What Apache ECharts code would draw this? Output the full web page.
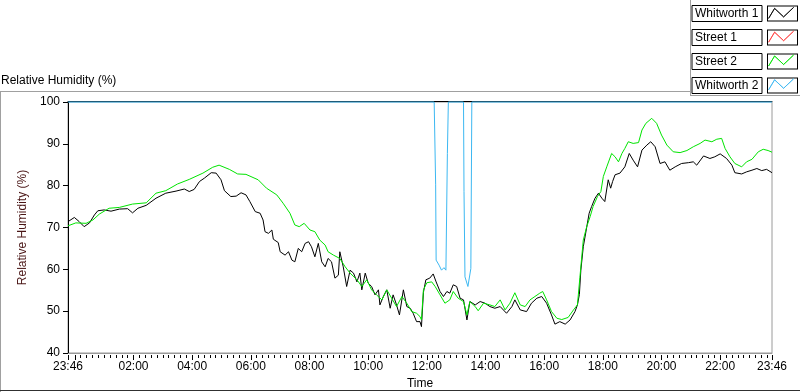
<!DOCTYPE html>
<html>
<head>
<meta charset="utf-8">
<script src="https://cdn.jsdelivr.net/npm/echarts@6/dist/echarts.min.js"></script>
<style>
  html, body { margin: 0; padding: 0; background: #fff; }
  #chart { width: 800px; height: 392px; }
</style>
</head>
<body>
<div id="chart"></div>
<script>
// minutes elapsed since the start of the record (23:46)
const w1Time = [0,13,23,33,44,54,61,74,88,105,122,132,143,160,180,200,221,238,248,258,269,279,293,303,313,320,333,344,354,364,372,383,393,399,403,410,417,420,430,434,444,451,458,464,471,478,485,492,498,505,512,519,526,532,539,546,553,556,563,570,577,584,591,597,601,608,614,621,628,635,638,645,652,659,665,672,678,686,693,700,706,713,720,723,727,732,740,747,753,761,768,775,781,788,795,802,809,816,822,833,843,853,863,873,884,897,908,914,925,938,948,959,969,979,989,996,1006,1017,1027,1037,1042,1046,1049,1054,1060,1066,1071,1078,1085,1092,1098,1105,1110,1114,1119,1129,1139,1148,1156,1165,1174,1184,1192,1201,1211,1221,1231,1242,1255,1269,1279,1286,1300,1313,1323,1334,1347,1358,1364,1378,1388,1399,1409,1419,1429,1440]
const w1Val = [71.4,72.4,71.4,70.2,71.1,73.0,74.0,74.2,73.9,74.4,74.5,73.5,74.6,75.3,77.0,78.2,78.7,79.2,78.6,79.1,81.0,81.8,83.1,83.0,81.4,78.8,77.4,77.5,78.3,77.8,76.2,73.8,73.4,71.8,69.0,68.6,69.4,67.2,66.4,64.2,63.4,64.2,62.2,61.8,65.0,64.2,66.2,66.6,65.4,63.0,66.2,61.8,60.6,62.6,61.8,57.9,58.6,64.2,60.6,55.9,59.8,59.1,57.0,59.1,55.1,59.1,56.7,55.9,53.9,55.1,51.5,53.5,55.1,50.7,53.9,51.5,49.1,55.1,51.1,50.7,49.5,47.5,47.5,46.3,54.5,57.5,57.9,58.9,57.0,54.7,53.5,54.7,54.3,56.3,55.9,53.1,52.7,47.9,52.3,51.5,52.3,51.9,51.1,50.7,51.1,49.5,51.1,52.7,50.3,49.9,51.9,53.1,53.5,51.9,49.1,46.9,47.5,46.9,47.9,49.9,51.5,54.0,59.8,65.4,69.4,73.4,75.0,77.0,78.2,77.0,76.2,81.4,79.4,81.0,82.6,83.0,84.5,87.7,86.1,84.5,88.5,89.7,90.5,89.3,85.3,85.7,83.7,84.5,85.3,85.5,85.7,84.9,87.1,86.5,86.9,87.6,86.5,84.9,83.1,82.8,83.3,83.7,84.1,83.6,83.9,83.1]

const s1Time = []
const s1Val = []

const s2Time = [0,16,37,51,64,84,105,132,160,180,200,224,248,276,296,309,330,347,364,389,406,427,440,454,464,473,483,495,505,515,526,532,543,556,567,577,591,601,611,621,631,642,652,662,672,683,693,703,713,720,723,727,734,744,751,761,771,781,788,798,809,816,822,833,839,850,863,873,884,894,904,914,925,935,945,955,965,971,979,989,1000,1010,1023,1034,1042,1047,1054,1061,1068,1074,1083,1090,1095,1102,1112,1119,1126,1133,1139,1146,1156,1167,1174,1182,1194,1204,1214,1225,1238,1252,1266,1279,1293,1303,1317,1327,1337,1344,1354,1364,1378,1388,1399,1412,1422,1432,1440]
const s2Val = [70.4,71.1,71.0,71.8,73.2,74.6,74.8,75.6,75.9,78.2,78.8,80.4,81.5,83.0,84.4,84.9,83.9,82.8,82.7,81.4,79.4,77.8,75.8,73.4,70.6,70.2,71.0,69.4,69.0,67.0,65.8,64.2,63.4,62.6,60.6,59.1,57.5,55.9,57.5,55.1,53.9,52.7,55.1,53.1,51.1,53.5,51.9,49.9,49.5,48.7,47.9,55.1,56.8,57.0,55.9,53.9,51.9,52.7,54.7,53.1,52.3,49.1,52.3,51.1,50.1,51.9,51.5,51.1,52.7,50.3,51.9,54.4,51.5,51.1,52.7,53.5,54.3,54.7,52.7,49.9,48.3,48.0,48.5,50.3,51.5,58.0,67.0,70.2,72.6,75.0,77.4,78.6,82.2,84.5,87.7,86.9,85.7,87.7,88.9,90.5,90.1,90.3,93.3,94.9,96.1,94.9,92.1,89.7,88.1,87.9,88.4,89.3,90.1,90.9,90.5,91.1,91.3,88.9,86.9,85.3,84.5,85.7,86.3,88.1,88.7,88.4,88.0]

const w2Time = [0,749,752,753,759,764,769,773,776,778,809,810,812,818,822,824,826,1440]
const w2Val = [100,100,80.2,62.2,61.0,59.8,60.4,59.8,87.7,100,100,78.6,58.2,55.9,56.3,60.2,100,100]

const seriesNames = ['Whitworth 1', 'Street 1', 'Street 2', 'Whitworth 2']
const seriesColors = ['#000000', '#ff3b3b', '#00e400', '#3cb8f2']

const tickLabels = ['23:46','02:00','04:00','06:00','08:00','10:00','12:00','14:00','16:00','18:00','20:00','22:00','23:46']

const START = 23 * 60 + 46
const FONT = 'Liberation Sans, Arial, sans-serif'

function pad(n) { return (n < 10 ? '0' : '') + n }
function clock(v) {
    let m = (START + Math.round(v)) % 1440
    return pad(Math.floor(m / 60)) + ':' + pad(m % 60)
}
// tick labels -> elapsed minutes
let labelPos = tickLabels.map((s, i) => {
    if (i === tickLabels.length - 1) return 1440
    let p = s.split(':')
    return ((+p[0] * 60 + +p[1]) - START + 1440) % 1440
})
let majorPos = labelPos.concat([1440 - START]).sort((a, b) => a - b)   // midnight tick too
let minorPos = []
for (let v = 1440 - START + 12; v < 1440; v += 12) {
    if (majorPos.indexOf(v) < 0) minorPos.push(v)
}

function pairs(t, v) { return t.map((x, i) => [x, v[i]]) }

let myChart = echarts.init(document.getElementById('chart'))

let lineSeries = [
    [w1Time, w1Val], [s1Time, s1Val], [s2Time, s2Val], [w2Time, w2Val]
].map((d, i) => ({
    name: seriesNames[i],
    type: 'line',
    data: pairs(d[0], d[1]),
    symbol: 'none',
    showSymbol: false,
    clip: false,
    lineStyle: { width: 1, color: seriesColors[i] },
    itemStyle: { color: seriesColors[i] },
    emphasis: { disabled: true },
    z: 3 + i
}))

let hiddenAxis = {
    type: 'value', min: 0, max: 1440, gridIndex: 0,
    axisLine: { show: false }, axisLabel: { show: false }, splitLine: { show: false }
}

myChart.setOption({
    animation: false,
    backgroundColor: '#fff',
    textStyle: { fontFamily: FONT },
    title: {
        text: 'Relative Humidity (%)',
        left: 1, top: 75, padding: 0,
        textStyle: { fontSize: 12, fontWeight: 'normal', color: '#000', fontFamily: FONT }
    },
    legend: [
        {
            data: seriesNames,
            orient: 'vertical',
            right: 2, top: 5, padding: 0,
            align: 'right',
            itemWidth: 31, itemHeight: 16, itemGap: 7,
            icon: 'path://M0,0H31V16H0Z M1,1V15H30V1Z',
            itemStyle: { color: '#000', borderWidth: 0 },
            formatter: (name) => '{n|' + name + '}',
            textStyle: {
                rich: {
                    n: {
                        fontSize: 12, fontFamily: FONT, color: '#000',
                        width: 64, height: 14, lineHeight: 14, align: 'left',
                        borderColor: '#000', borderWidth: 1, padding: [1, 3, 1, 3]
                    }
                }
            }
        },
        {
            data: seriesNames.map((n, i) => ({
                name: n,
                icon: 'path://M0,11L6,1L15,9.5L25,0L15,9.5L6,1Z',
                itemStyle: { color: seriesColors[i], borderColor: seriesColors[i], borderWidth: 0.8 }
            })),
            orient: 'vertical',
            right: 6, top: 7, padding: 0,
            align: 'right',
            itemWidth: 25, itemHeight: 11, itemGap: 12,
            formatter: () => '',
            textStyle: { fontSize: 1, lineHeight: 1 }
        }
    ],
    grid: {
        left: 68, right: 28, top: 102, bottom: 39,
        show: true, backgroundColor: '#fff', borderColor: '#9a9a9a', borderWidth: 1,
        outerBoundsMode: 'none'
    },
    xAxis: [
        {
            type: 'value', min: 0, max: 1440, position: 'bottom',
            name: 'Time', nameLocation: 'middle', nameGap: 24,
            nameTextStyle: { fontSize: 12, color: '#000', fontFamily: FONT },
            axisLine: { lineStyle: { color: '#9a9a9a', width: 1 } },
            axisTick: { show: false },
            axisLabel: {
                customValues: labelPos, formatter: (v) => clock(v),
                fontSize: 12, color: '#000', margin: 8, fontFamily: FONT,
                showMinLabel: true, showMaxLabel: true
            },
            splitLine: { show: false }
        },
        Object.assign({}, hiddenAxis, {
            position: 'bottom', offset: 2,
            axisTick: { show: true, customValues: majorPos, length: 5, lineStyle: { color: '#000' } }
        }),
        Object.assign({}, hiddenAxis, {
            position: 'bottom', offset: 2,
            axisTick: { show: true, customValues: minorPos, length: 3, lineStyle: { color: '#000' } }
        }),
        Object.assign({}, hiddenAxis, {
            position: 'top', offset: 1,
            axisLine: { show: true, lineStyle: { color: '#000', width: 1 } },
            axisTick: { show: false }
        })
    ],
    yAxis: [
        {
            type: 'value', min: 40, max: 100, interval: 10,
            name: 'Relative Humidity (%)', nameLocation: 'middle', nameGap: 32, nameRotate: 90,
            nameTextStyle: { fontSize: 12, color: '#4a1616', fontFamily: FONT },
            axisLine: { show: true, lineStyle: { color: '#000', width: 1 } },
            axisTick: { show: true, length: 5, lineStyle: { color: '#000' } },
            axisLabel: { fontSize: 12, color: '#000', margin: 8, fontFamily: FONT },
            splitLine: { show: false }
        }
    ],
    series: lineSeries,
    graphic: [
        { type: 'line', silent: true, shape: { x1: 0, y1: 91.5, x2: 690, y2: 91.5 }, style: { stroke: '#a0a0a0', lineWidth: 1 } },
        { type: 'line', silent: true, shape: { x1: 0.5, y1: 91, x2: 0.5, y2: 392 }, style: { stroke: '#a0a0a0', lineWidth: 1 } },
        { type: 'line', silent: true, shape: { x1: 690.5, y1: 0, x2: 690.5, y2: 96 }, style: { stroke: '#a0a0a0', lineWidth: 1 } },
        { type: 'line', silent: true, shape: { x1: 690, y1: 95.5, x2: 800, y2: 95.5 }, style: { stroke: '#a0a0a0', lineWidth: 1 } },
        { type: 'line', silent: true, shape: { x1: 0, y1: 390.5, x2: 800, y2: 390.5 }, style: { stroke: '#303030', lineWidth: 1 } }
    ]
})
</script>
</body>
</html>
